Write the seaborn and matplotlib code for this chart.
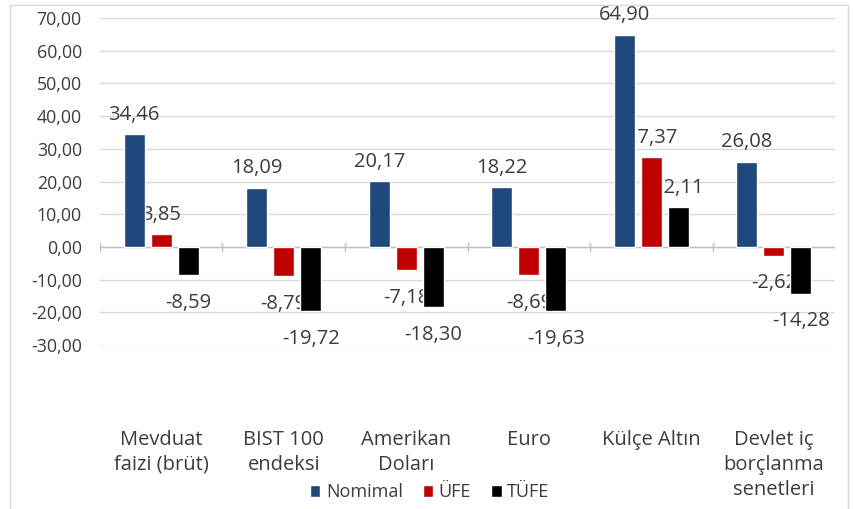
import matplotlib
matplotlib.use("Agg")
import matplotlib.pyplot as plt
import seaborn as sns
import pandas as pd
from matplotlib.patches import Patch, Rectangle

# veriler
kategoriler = ["Mevduat\nfaizi (brüt)", "BIST 100\nendeksi", "Amerikan\nDoları",
               "Euro", "Külçe Altın", "Devlet iç\nborçlanma\nsenetleri"]
seriler = ["Nomimal", "ÜFE", "TÜFE"]
nominal = [34.46, 18.09, 20.17, 18.22, 64.90, 26.08]
ufe = [3.85, -8.79, -7.18, -8.69, 27.37, -2.62]
tufe = [-8.59, -19.72, -18.30, -19.63, 12.11, -14.28]
renkler = ["#1F497D", "#C00000", "#000000"]
y_ticks = list(range(-30, 71, 10))

df = pd.DataFrame({
    "kategori": kategoriler * 3,
    "seri": [s for s in seriler for _ in kategoriler],
    "deger": nominal + ufe + tufe,
})

sns.set_style("white")
plt.rcParams["font.family"] = ["Open Sans", "DejaVu Sans"]
yazi_rengi = "#3c3c3c"

fig = plt.figure(figsize=(8.54, 5.09), dpi=100)
ax = fig.add_axes([0.117, 0.322, 0.861, 0.6426])

sns.barplot(data=df, x="kategori", y="deger", hue="seri", order=kategoriler,
            hue_order=seriler, palette=renkler, saturation=1, width=0.66, gap=0.22,
            errorbar=None, legend=False, ax=ax, zorder=2)

ax.set_xlim(-0.5, 5.5)
ax.set_ylim(-30, 70)
ax.set_yticks(y_ticks)
ax.set_yticklabels([f"{t:.2f}".replace(".", ",") for t in y_ticks])
ax.set_xlabel("")
ax.set_ylabel("")
ax.set_xticks([])
ax.grid(axis="y", color="#d9d9d9", linewidth=1)
ax.set_axisbelow(True)
for s in ax.spines.values():
    s.set_visible(False)
ax.tick_params(axis="y", length=0, pad=13, labelsize=12.8, labelcolor=yazi_rengi)

# kategori etiketleri (grafigin altinda)
for i, k in enumerate(kategoriler):
    ax.text(i, -0.26, k, transform=ax.get_xaxis_transform(), ha="center", va="top",
            fontsize=14.5, color=yazi_rengi, linespacing=1.32)

# sifir ekseni ve kategori sinir cizgileri
ax.axhline(0, color="#bfbfbf", linewidth=1, zorder=1)
for b in [i - 0.5 for i in range(len(kategoriler) + 1)]:
    ax.plot([b, b], [-1.2, 1.2], color="#bfbfbf", linewidth=1, zorder=1)

# veri etiketleri (cubuklarin arkasinda)
for cont in ax.containers:
    for bar in cont:
        v = bar.get_height()
        x = bar.get_x() + bar.get_width() / 2
        dy = 14 if v >= 0 else -20
        ax.annotate(f"{v:.2f}".replace(".", ","), (x, v), xytext=(0, dy),
                    textcoords="offset points", ha="center", va="center",
                    fontsize=14.5, color=yazi_rengi, zorder=1.5)

# lejant
tutamaklar = [Patch(facecolor=c, label=s) for c, s in zip(renkler, seriler)]
fig.legend(handles=tutamaklar, loc="center", bbox_to_anchor=(0.503, 0.033), ncol=3,
           frameon=False, fontsize=13, handlelength=0.6, handleheight=0.6,
           handletextpad=0.3, columnspacing=1.1, labelcolor=yazi_rengi)

# grafik alani cercevesi
fig.patches.append(Rectangle((0.012, -0.01), 0.981, 1.0, transform=fig.transFigure,
                             fill=False, edgecolor="#d9d9d9", linewidth=1))

plt.savefig("out.png", dpi=100)
plt.close()
